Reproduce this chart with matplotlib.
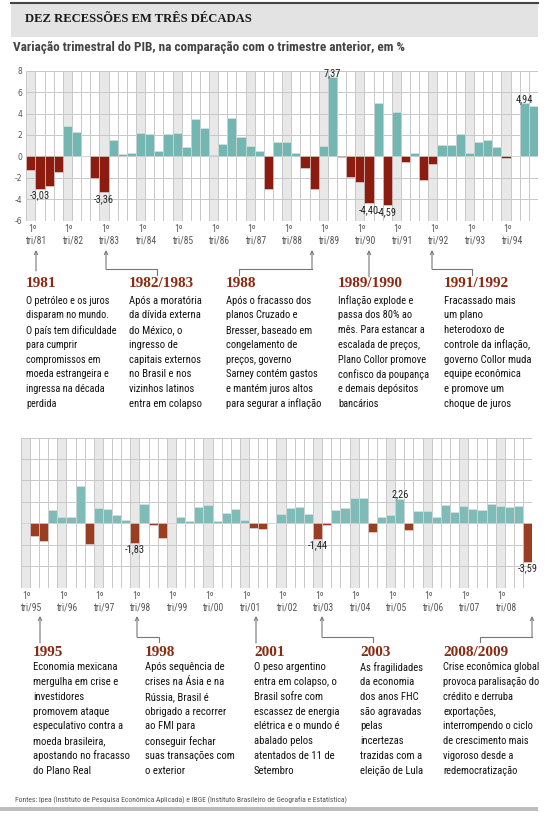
import numpy as np
import matplotlib.pyplot as plt
from matplotlib import font_manager as fm
from matplotlib.lines import Line2D
from matplotlib.patches import FancyArrowPatch

# --- data: quarterly GDP change (%), vs previous quarter ---
years_top = list(range(1981, 1995))
top_values = [-1.25, -3.03, -2.8, -1.45,   # 1981
              2.8, 2.3, 0.0, -2.0,         # 1982
              -3.36, 1.5, 0.2, 0.3,        # 1983
              2.2, 2.05, 0.45, 2.05,       # 1984
              2.15, 0.9, 3.5, 2.65,        # 1985
              0.15, 1.15, 3.55, 1.85,      # 1986
              0.95, 0.5, -3.05, 1.3,       # 1987
              1.35, 0.35, -1.05, -3.1,     # 1988
              1.0, 7.37, -0.1, -1.95,      # 1989
              -2.4, -4.40, 4.95, -4.59,    # 1990
              4.1, -0.5, 0.3, -2.2,        # 1991
              -0.75, 1.1, 1.1, 2.1,        # 1992
              0.3, 1.3, 1.55, 0.9,         # 1993
              -0.2, 0.0, 4.94, 4.7]        # 1994

years_bot = list(range(1995, 2009))
bottom_values = [0.0, -1.2, -1.7, 1.25,    # 1995
                 0.6, 0.55, 3.45, -1.95,   # 1996
                 1.45, 1.35, 0.8, 0.3,     # 1997
                 -1.83, 1.8, -0.2, -1.4,   # 1998
                 0.0, 0.55, 0.25, 1.5,     # 1999
                 1.7, 0.25, 0.95, 1.3,     # 2000
                 0.35, -0.45, -0.5, 0.0,   # 2001
                 0.9, 1.45, 1.5, 0.9,      # 2002
                 -1.44, -0.2, 1.25, 1.4,   # 2003
                 2.4, 2.35, -0.85, 0.6,    # 2004
                 0.8, 2.26, -0.6, 1.15,    # 2005
                 1.15, 0.55, 1.7, 1.05,    # 2006
                 1.6, 1.35, 1.2, 1.85,     # 2007
                 1.6, 1.55, 1.65, -3.59]   # 2008

top_labels = {1: "-3,03", 8: "-3,36", 33: "7,37", 37: "-4,40", 39: "-4,59", 54: "4,94"}
bot_labels = {12: "-1,83", 32: "-1,44", 41: "2,26", 55: "-3,59"}

top_notes = [
    ("1981", ["O petróleo e os juros", "disparam no mundo.", "O país tem dificuldade",
              "para cumprir", "compromissos em", "moeda estrangeira e",
              "ingressa na década", "perdida"]),
    ("1982/1983", ["Após a moratória", "da dívida externa", "do México, o", "ingresso de",
                   "capitais externos", "no Brasil e nos", "vizinhos latinos",
                   "entra em colapso"]),
    ("1988", ["Após o fracasso dos", "planos Cruzado e", "Bresser, baseado em",
              "congelamento de", "preços, governo", "Sarney contém gastos",
              "e mantém juros altos", "para segurar a inflação"]),
    ("1989/1990", ["Inflação explode e", "passa dos 80% ao", "mês. Para estancar a",
                   "escalada de preços,", "Plano Collor promove", "confisco da poupança",
                   "e demais depósitos", "bancários"]),
    ("1991/1992", ["Fracassado mais", "um plano", "heterodoxo de", "controle da inflação,",
                   "governo Collor muda", "equipe econômica", "e promove um",
                   "choque de juros"]),
]
bot_notes = [
    ("1995", ["Economia mexicana", "mergulha em crise e", "investidores",
              "promovem ataque", "especulativo contra a", "moeda brasileira,",
              "apostando no fracasso", "do Plano Real"]),
    ("1998", ["Após sequência de", "crises na Ásia e na", "Rússia, Brasil é",
              "obrigado a recorrer", "ao FMI para", "conseguir fechar",
              "suas transações com", "o exterior"]),
    ("2001", ["O peso argentino", "entra em colapso, o", "Brasil sofre com",
              "escassez de energia", "elétrica e o mundo é", "abalado pelos",
              "atentados de 11 de", "Setembro"]),
    ("2003", ["As fragilidades", "da economia", "dos anos FHC", "são agravadas",
              "pelas", "incertezas", "trazidas com a", "eleição de Lula"]),
    ("2008/2009", ["Crise econômica global", "provoca paralisação do",
                   "crédito e derruba", "exportações,", "interrompendo o ciclo",
                   "de crescimento mais", "vigoroso desde a", "redemocratização"]),
]

# pick the narrowest sans available
_fonts = fm.fontManager.ttflist
_names = {f.name for f in _fonts}
NARROW_STRETCH = 'normal'
NARROW = None
for cand in ['Liberation Sans Narrow', 'Roboto Condensed', 'Open Sans Condensed',
             'Noto Sans Condensed']:
    if cand in _names:
        NARROW = cand
        break
if NARROW is None:
    for f in _fonts:
        if f.name in ('DejaVu Sans', 'Noto Sans', 'Roboto', 'Open Sans') and \
                f.stretch in ('condensed', 'semi-condensed', 'extra-condensed', 'ultra-condensed'):
            NARROW = f.name
            NARROW_STRETCH = f.stretch
            break
if NARROW is None:
    NARROW = 'Roboto' if 'Roboto' in _names else 'Liberation Sans'
NARROW_FAM = [NARROW, 'DejaVu Sans']
SERIF = ['Liberation Serif', 'DejaVu Serif']
HEAD_C = '#8a2a10'
GRID_C = '#c8c8c8'

W, H = 550, 820
fig = plt.figure(figsize=(5.5, 8.2), dpi=100)
renderer = fig.canvas.get_renderer()


def fx(x):
    return x / W


def fy(y):
    return 1 - y / H


def fit_size(strings, target, base, **kw):
    t = fig.text(0, 0, '', fontsize=base, **kw)
    w = 0
    for s in strings:
        t.set_text(s)
        w = max(w, t.get_window_extent(renderer).width)
    t.remove()
    return base * min(1.0, target / w)


def px_text(x, y, s, **kw):
    fig.text(fx(x), fy(y), s, **kw)


nkw = dict(family=NARROW_FAM, fontstretch=NARROW_STRETCH)

# font sizes fitted to the widths in the reference
top_widths = [89, 77, 95, 90, 89]
bot_widths = [96, 90, 89, 66, 96]
block_fs = [fit_size(lines, w, 10, **nkw)
            for notes_, widths in [(top_notes, top_widths), (bot_notes, bot_widths)]
            for (h, lines), w in zip(notes_, widths)]
body_fs = float(np.median(block_fs))
top_fs = [min(body_fs, s) for s in block_fs[:5]]
bot_fs = [min(body_fs, s) for s in block_fs[5:]]

sub_text = "Variação trimestral do PIB, na comparação com o trimestre anterior, em %"
sub_fs = fit_size([sub_text], 419, 9.5, fontweight='bold', **nkw)
foot_text = ("Fontes: Ipea (Instituto de Pesquisa Econômica Aplicada) e IBGE "
             "(Instituto Brasileiro de Geografia e Estatística)")
foot_fs = fit_size([foot_text], 352, 5.5, **nkw)
title_text = "DEZ RECESSÕES EM TRÊS DÉCADAS"
title_fs = fit_size([title_text], 227, 11, fontweight='bold', family=SERIF)
tri_fs = fit_size(["tri/88"], 21, 7, **nkw)
val_fs = fit_size(["-4,40"], 20, 7.5, **nkw)


def draw_chart(rect, values, years, pos_c, neg_c, labels, ylabels):
    x0, x1, ytop, ybot = rect
    ax = fig.add_axes([fx(x0), fy(ybot), (x1 - x0) / W, (ybot - ytop) / H])
    n = len(values)
    ax.set_xlim(0, n)
    ax.set_ylim(-6, 8)
    for i in range(0, n, 4):
        ax.axvspan(i, i + 1, color='#e8e8e8', lw=0, zorder=0)
    ax.vlines(range(n + 1), -6, 8, color=GRID_C, lw=0.7, zorder=1)
    ax.hlines(range(-6, 9, 2), 0, n, color=GRID_C, lw=0.7, zorder=1)
    vals = np.array(values)
    colors = [pos_c if v >= 0 else neg_c for v in vals]
    ax.bar(np.arange(n), vals, width=1, align='edge', color=colors,
           edgecolor='#e0e0e0', linewidth=0.4, zorder=2)
    for i, s in labels.items():
        v = vals[i]
        if v >= 0:
            ax.text(i + 0.5, v + 0.05, s, ha='center', va='bottom', fontsize=val_fs,
                    color='#222222', zorder=3, **nkw)
        else:
            ax.text(i + 0.5, v - 0.05, s, ha='center', va='top', fontsize=val_fs,
                    color='#222222', zorder=3, **nkw)
    for k, yr in enumerate(years):
        ax.text(k * 4 + 0.2, -6.25, "1º", ha='left', va='top', fontsize=tri_fs,
                color='#555555', **nkw)
        ax.text(k * 4 + 0.0, -7.35, "tri/%02d" % (yr % 100), ha='left', va='top',
                fontsize=tri_fs, color='#555555', **nkw)
    if ylabels:
        for t in range(-6, 9, 2):
            ax.text(-0.45, t, str(t), ha='right', va='center', fontsize=5.5,
                    color='#555555')
    ax.set_xticks([])
    ax.set_yticks([])
    for sp in ax.spines.values():
        sp.set_visible(False)
    return ax


def connector(points):
    xs = [fx(p[0]) for p in points]
    ys = [fy(p[1]) for p in points]
    fig.add_artist(Line2D(xs[1:], ys[1:], transform=fig.transFigure,
                          color='#777777', lw=0.8))
    fig.add_artist(FancyArrowPatch((xs[1], ys[1]), (xs[0], ys[0]),
                                   transform=fig.transFigure, arrowstyle='->',
                                   mutation_scale=6, color='#777777', lw=0.8,
                                   shrinkA=0, shrinkB=0))


def notes(items, xs, sizes, y_head, y_body):
    for (head, lines), x, fs in zip(items, xs, sizes):
        px_text(x, y_head, head, ha='left', va='center', fontsize=11,
                fontweight='bold', color=HEAD_C, family=SERIF)
        for j, ln in enumerate(lines):
            px_text(x, y_body + j * 14.75, ln, ha='left', va='center', fontsize=fs,
                    color='#111111', **nkw)


# --- header ---
fig.add_artist(plt.Rectangle((fx(11), fy(38)), (538 - 11) / W, 34 / H,
                             transform=fig.transFigure, color='#e3e3e3', lw=0))
fig.add_artist(Line2D([fx(11), fx(538)], [fy(3.5), fy(3.5)], transform=fig.transFigure,
                      color='#444444', lw=1.5))
px_text(25, 19, title_text, ha='left', va='center', fontsize=title_fs,
        fontweight='bold', color='#1a1a1a', family=SERIF)
px_text(13, 48, sub_text, ha='left', va='center', fontsize=sub_fs, fontweight='bold',
        color='#444444', **nkw)

# --- charts ---
draw_chart((26.3, 538.0, 71.7, 221.5), top_values, years_top,
           '#74b6b1', '#8c1c0f', top_labels, True)
draw_chart((20.7, 532.2, 438.7, 588.5), bottom_values, years_bot,
           '#7fbcb7', '#9b3d20', bot_labels, False)

# --- annotations ---
connector([(36, 251), (36, 272)])
connector([(106, 251), (106, 270), (157, 270), (157, 276)])
connector([(312, 251), (312, 270), (239, 270), (239, 276)])
connector([(369, 251), (369, 278)])
connector([(432, 251), (432, 270), (472, 270), (472, 276)])
notes(top_notes, [26, 129, 226, 338, 444], top_fs, 284, 300.7)

connector([(40, 617), (40, 644)])
connector([(137, 617), (137, 638), (159, 638), (159, 643)])
connector([(256, 617), (256, 644)])
connector([(322, 617), (322, 638), (373, 638), (373, 643)])
connector([(532, 617), (532, 638), (480, 638), (480, 643)])
notes(bot_notes, [33, 145, 254, 360, 443], bot_fs, 653, 667.3)

# --- footer ---
px_text(15, 800.5, foot_text, ha='left', va='center', fontsize=foot_fs,
        color='#555555', **nkw)
fig.add_artist(plt.Rectangle((0, fy(812)), 538 / W, 4 / H, transform=fig.transFigure,
                             color='#bdbdbd', lw=0))

fig.savefig('out.png', dpi=100)
